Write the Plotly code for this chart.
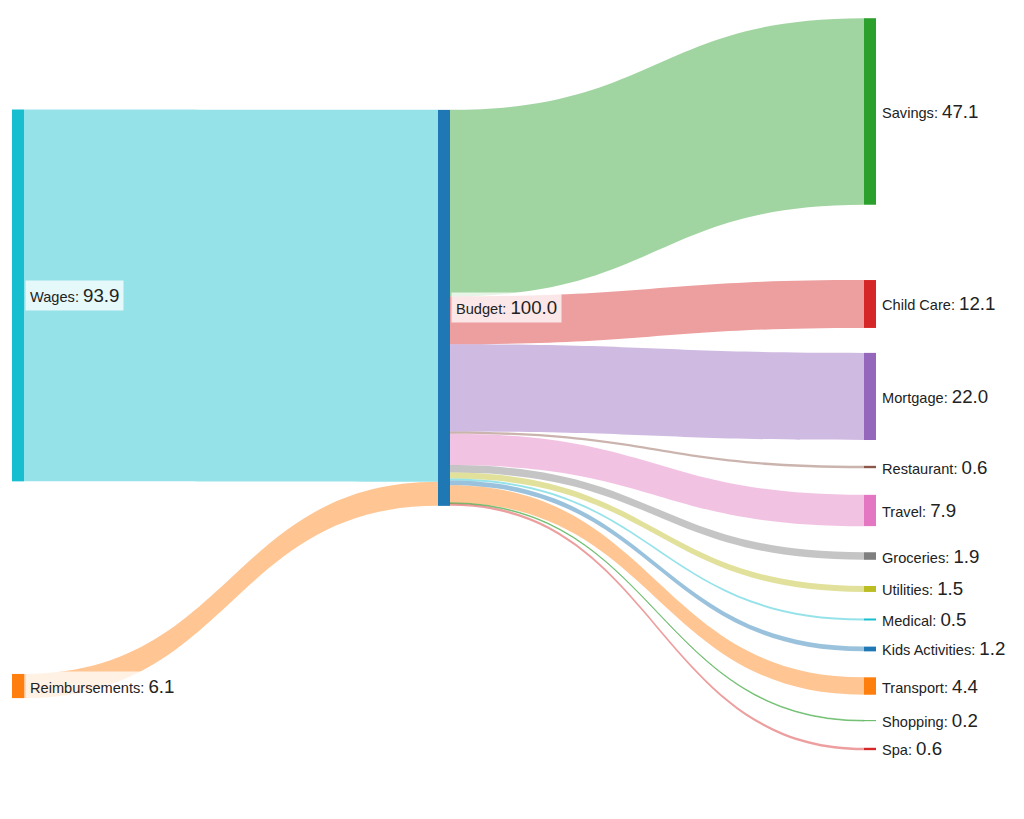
import plotly.graph_objects as go

sources_in = ["Wages", "Reimbursements"]
values_in = [93.9, 6.1]
hub = "Budget"
hub_value = 100.0
targets_out = ["Savings", "Child Care", "Mortgage", "Restaurant", "Travel", "Groceries",
               "Utilities", "Medical", "Kids Activities", "Transport", "Shopping", "Spa"]
values_out = [47.1, 12.1, 22.0, 0.6, 7.9, 1.9, 1.5, 0.5, 1.2, 4.4, 0.2, 0.6]

in_colors = ["#17becf", "#ff7f0e"]
hub_color = "#1f77b4"
out_colors = ["#2ca02c", "#d62728", "#9467bd", "#8c564b", "#e377c2", "#7f7f7f",
              "#bcbd22", "#17becf", "#1f77b4", "#ff7f0e", "#2ca02c", "#d62728"]

# layout: the rendered plot area ends up 8px inside the requested margins
W, H = 1024, 819
INSET = 8
M = dict(l=12 - INSET, r=148 - INSET, t=18 - INSET, b=69 - INSET)
WE = W - M["l"] - M["r"] - 2 * INSET
HE = H - M["t"] - M["b"] - 2 * INSET
THICK = 12
col_x = [THICK / 2 / WE, 0.5, 1 - THICK / 2 / WE]
in_y = [0.379, 0.9126]
hub_y = 0.396
out_y = [0.1277, 0.3907, 0.517, 0.6134, 0.6728, 0.735, 0.780, 0.8217, 0.862, 0.9126, 0.960, 0.9986]


def rgba(h, a):
    h = h.lstrip("#")
    return f"rgba({int(h[0:2],16)},{int(h[2:4],16)},{int(h[4:6],16)},{a})"


def lab(name, v):
    return f"{name}: <span style='font-size:18.7px'>{v:.1f}</span>"


names = sources_in + [hub] + targets_out
node_vals = values_in + [hub_value] + values_out
node_colors = in_colors + [hub_color] + out_colors
node_x = [col_x[0]] * len(sources_in) + [col_x[1]] + [col_x[2]] * len(targets_out)
node_y = in_y + [hub_y] + out_y
hub_idx = len(sources_in)

src, tgt, val, lcol = [], [], [], []
for i, v in enumerate(values_in):
    src.append(i); tgt.append(hub_idx); val.append(v); lcol.append(rgba(in_colors[i], 0.45))
for j, v in enumerate(values_out):
    src.append(hub_idx); tgt.append(hub_idx + 1 + j); val.append(v); lcol.append(rgba(out_colors[j], 0.45))

# pad chosen so the tallest column fills the domain height
pad = (HE - sum(values_out) * 3.96) / (len(values_out) - 1)

fig = go.Figure(go.Sankey(
    arrangement="fixed",
    node=dict(label=[""] * len(names), customdata=names, color=node_colors, pad=pad,
              thickness=THICK, x=node_x, y=node_y, line=dict(width=0),
              hovertemplate="%{customdata}: %{value:.1f}<extra></extra>"),
    link=dict(source=src, target=tgt, value=val, color=lcol),
))

annotations = []
for n, v, x, y in zip(names, node_vals, node_x, node_y):
    annotations.append(dict(
        text=lab(n, v), xref="paper", yref="paper",
        x=x + THICK / 2 / WE, y=1 - y,
        xanchor="left", yanchor="middle",
        xshift=1, showarrow=False, borderpad=4,
        bgcolor="rgba(255,255,255,0.75)",
        font=dict(family="Arial", size=14.6, color="#222222"),
    ))

fig.update_layout(margin=M, paper_bgcolor="white",
                  font=dict(family="Arial"), annotations=annotations)
fig.write_html("out.html")
